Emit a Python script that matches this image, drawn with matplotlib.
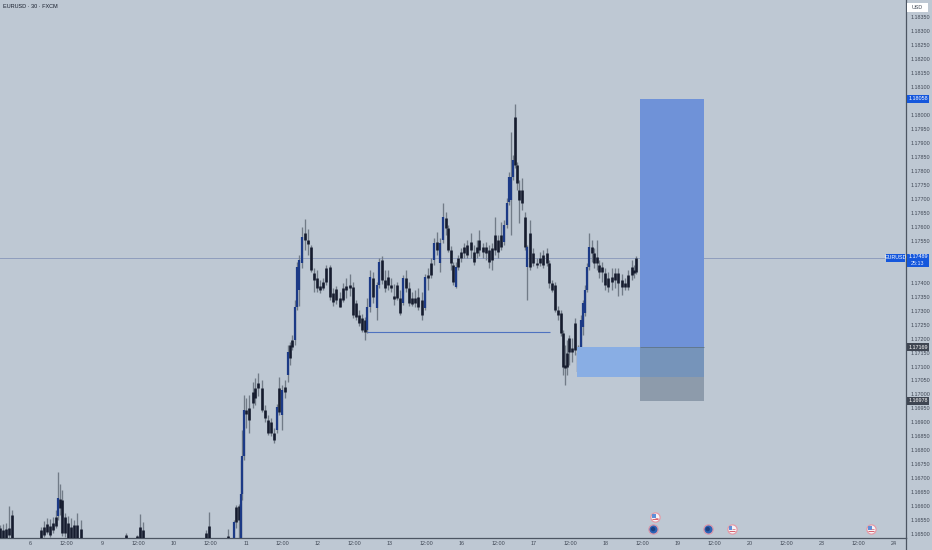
import numpy as np
import matplotlib
matplotlib.use("Agg")
import matplotlib.pyplot as plt
from matplotlib.patches import Rectangle
from matplotlib.transforms import blended_transform_factory as btf

plt.rcParams['font.family'] = ['Liberation Sans', 'DejaVu Sans']

BG = '#bec8d3'
TXT = '#3f4754'

# hours since the left edge of the chart
hours = [0,1,2,3,4,13.7,14.7,15.7,16.7,17.7,
 18.7,19.2,20,20.7,21.7,22.7,23.7,24.7,25.7,27,
 42,45.7,46.7,47.7,68.7,69.7,76,78,78.7,79.7,
 80.2,80.7,81.2,82,83,84.3,85,86,87.3,88.3,
 89.3,90.3,91.3,92.3,93,94,95,96,96.7,97.3,
 98.3,99,99.7,100.7,101.7,102.7,103.7,104.7,105.7,106.7,
 107.7,108.7,110,111,112,113.3,114.3,115.3,116.7,117.7,
 118.7,119.7,120.7,121.7,122.3,123.3,124.3,125.7,126.3,127.3,
 128.3,129.3,130.3,131.3,132.3,133.3,134.3,135.3,136.3,137.3,
 138.3,139.3,140.7,141.7,142.7,143.7,144.7,145.7,146.7,147.7,
 148.7,149.3,150.3,151,152,152.7,153.7,154.7,155.7,157,
 158,159,159.7,161,162,163,164,165,166,167,
 168,169,169.7,170.3,171,171.7,172.3,173,174,175,
 175.7,176.7,177.7,179,180,181,182.3,183,184,185,
 186,187,187.7,188.3,189,189.7,190.7,191.7,192.7,193.7,
 194.3,195,195.7,196.3,197.3,198,199,199.7,200.7,201.7,
 202.7,204,205,206,207.3,208.3,209.3,210.7,211.3,212]

body_top = [1.16522,1.16515,1.16518,1.16522,1.16568,1.16515,1.16525,1.16536,1.16529,1.16540,
 1.16561,1.16629,1.16626,1.16622,1.16561,1.16540,1.16525,1.16533,1.16533,1.16518,
 1.16497,1.16493,1.16525,1.16515,1.16504,1.16529,1.16493,1.16543,1.16597,1.16601,
 1.16643,1.16780,1.16944,1.16944,1.16951,1.17009,1.17023,1.17041,1.17023,1.16944,
 1.16908,1.16901,1.16862,1.16955,1.17023,1.17016,1.17027,1.17152,1.17177,1.17195,
 1.17313,1.17456,1.17481,1.17564,1.17578,1.17553,1.17528,1.17435,1.17417,1.17388,
 1.17402,1.17453,1.17456,1.17363,1.17377,1.17345,1.17381,1.17388,1.17392,1.17385,
 1.17327,1.17284,1.17274,1.17266,1.17313,1.17420,1.17417,1.17392,1.17474,1.17481,
 1.17410,1.17420,1.17392,1.17352,1.17392,1.17345,1.17417,1.17417,1.17381,1.17345,
 1.17345,1.17349,1.17338,1.17420,1.17428,1.17470,1.17542,1.17546,1.17542,1.17635,
 1.17632,1.17596,1.17517,1.17463,1.17456,1.17488,1.17510,1.17528,1.17535,1.17546,
 1.17510,1.17528,1.17553,1.17528,1.17528,1.17517,1.17524,1.17571,1.17553,1.17571,
 1.17607,1.17685,1.17778,1.17778,1.17839,1.17993,1.17821,1.17732,1.17732,1.17635,
 1.17528,1.17578,1.17506,1.17470,1.17488,1.17499,1.17506,1.17470,1.17399,1.17392,
 1.17302,1.17291,1.17220,1.17105,1.17148,1.17202,1.17166,1.17256,1.17148,1.17266,
 1.17327,1.17374,1.17456,1.17528,1.17528,1.17506,1.17492,1.17463,1.17456,1.17435,
 1.17417,1.17420,1.17435,1.17435,1.17410,1.17399,1.17428,1.17456,1.17445,1.17488]

body_bottom = [1.16479,1.16479,1.16479,1.16497,1.16479,1.16479,1.16497,1.16507,1.16497,1.16515,
 1.16529,1.16565,1.16593,1.16504,1.16504,1.16479,1.16479,1.16479,1.16479,1.16479,
 1.16479,1.16479,1.16479,1.16479,1.16479,1.16479,1.16479,1.16479,1.16543,1.16550,
 1.16479,1.16643,1.16780,1.16930,1.16908,1.16969,1.16987,1.17023,1.16944,1.16916,
 1.16862,1.16862,1.16837,1.16873,1.16937,1.16926,1.17009,1.17070,1.17130,1.17170,
 1.17195,1.17313,1.17374,1.17470,1.17553,1.17538,1.17445,1.17410,1.17381,1.17374,
 1.17381,1.17402,1.17349,1.17331,1.17338,1.17313,1.17338,1.17374,1.17381,1.17284,
 1.17277,1.17256,1.17231,1.17224,1.17231,1.17313,1.17349,1.17309,1.17392,1.17410,
 1.17381,1.17392,1.17381,1.17342,1.17345,1.17291,1.17327,1.17381,1.17327,1.17324,
 1.17327,1.17313,1.17284,1.17309,1.17417,1.17428,1.17481,1.17517,1.17470,1.17553,
 1.17596,1.17517,1.17470,1.17402,1.17385,1.17456,1.17488,1.17506,1.17499,1.17517,
 1.17474,1.17506,1.17517,1.17510,1.17506,1.17474,1.17481,1.17517,1.17510,1.17528,
 1.17546,1.17607,1.17689,1.17696,1.17778,1.17821,1.17757,1.17696,1.17685,1.17528,
 1.17456,1.17456,1.17470,1.17463,1.17470,1.17463,1.17470,1.17399,1.17374,1.17302,
 1.17284,1.17220,1.17098,1.17095,1.17098,1.17152,1.17152,1.17159,1.17080,1.17148,
 1.17241,1.17291,1.17374,1.17456,1.17506,1.17470,1.17470,1.17438,1.17438,1.17392,
 1.17385,1.17402,1.17410,1.17399,1.17385,1.17385,1.17385,1.17428,1.17435,1.17438]

wick_high = [1.16533,1.16536,1.16540,1.16601,1.16586,1.16525,1.16547,1.16558,1.16554,1.16561,
 1.16586,1.16722,1.16679,1.16658,1.16575,1.16565,1.16558,1.16550,1.16575,1.16550,
 1.16504,1.16497,1.16572,1.16543,1.16515,1.16579,1.16518,1.16550,1.16604,1.16608,
 1.16765,1.16873,1.16998,1.16987,1.16998,1.17044,1.17059,1.17077,1.17052,1.16962,
 1.16926,1.16916,1.16880,1.16966,1.17062,1.17034,1.17052,1.17177,1.17188,1.17213,
 1.17338,1.17474,1.17499,1.17599,1.17628,1.17592,1.17535,1.17453,1.17445,1.17410,
 1.17417,1.17463,1.17463,1.17381,1.17388,1.17367,1.17399,1.17417,1.17431,1.17402,
 1.17338,1.17302,1.17288,1.17277,1.17345,1.17445,1.17438,1.17402,1.17488,1.17496,
 1.17445,1.17445,1.17417,1.17395,1.17402,1.17374,1.17428,1.17445,1.17402,1.17367,
 1.17374,1.17381,1.17367,1.17431,1.17453,1.17488,1.17560,1.17581,1.17560,1.17685,
 1.17653,1.17607,1.17531,1.17474,1.17474,1.17499,1.17524,1.17542,1.17553,1.17578,
 1.17535,1.17553,1.17589,1.17542,1.17546,1.17535,1.17542,1.17635,1.17571,1.17617,
 1.17624,1.17703,1.17796,1.17939,1.17857,1.18040,1.17832,1.17768,1.17775,1.17653,
 1.17535,1.17624,1.17524,1.17488,1.17510,1.17517,1.17524,1.17481,1.17410,1.17402,
 1.17316,1.17302,1.17231,1.17177,1.17195,1.17213,1.17202,1.17274,1.17177,1.17284,
 1.17338,1.17392,1.17470,1.17578,1.17553,1.17524,1.17553,1.17481,1.17474,1.17453,
 1.17438,1.17453,1.17453,1.17453,1.17431,1.17417,1.17445,1.17481,1.17463,1.17496]

wick_low = [1.16479,1.16479,1.16479,1.16479,1.16479,1.16479,1.16490,1.16500,1.16490,1.16504,
 1.16522,1.16550,1.16568,1.16493,1.16490,1.16479,1.16479,1.16479,1.16479,1.16479,
 1.16479,1.16479,1.16479,1.16479,1.16479,1.16479,1.16479,1.16479,1.16522,1.16479,
 1.16479,1.16622,1.16765,1.16880,1.16862,1.16951,1.16962,1.16994,1.16937,1.16901,
 1.16855,1.16851,1.16826,1.16862,1.16926,1.16873,1.16987,1.17044,1.17105,1.17159,
 1.17177,1.17302,1.17316,1.17453,1.17517,1.17499,1.17438,1.17367,1.17367,1.17363,
 1.17374,1.17392,1.17338,1.17316,1.17324,1.17313,1.17331,1.17345,1.17352,1.17274,
 1.17266,1.17245,1.17224,1.17195,1.17220,1.17295,1.17327,1.17266,1.17381,1.17395,
 1.17367,1.17374,1.17367,1.17320,1.17338,1.17284,1.17320,1.17367,1.17316,1.17316,
 1.17313,1.17302,1.17266,1.17302,1.17374,1.17417,1.17463,1.17499,1.17438,1.17542,
 1.17571,1.17510,1.17445,1.17392,1.17381,1.17445,1.17474,1.17488,1.17488,1.17488,
 1.17463,1.17488,1.17496,1.17488,1.17481,1.17453,1.17445,1.17499,1.17488,1.17517,
 1.17535,1.17596,1.17678,1.17571,1.17768,1.17811,1.17732,1.17614,1.17660,1.17517,
 1.17338,1.17445,1.17460,1.17453,1.17460,1.17453,1.17460,1.17381,1.17367,1.17295,
 1.17266,1.17209,1.17070,1.17034,1.17070,1.17105,1.17116,1.17141,1.17070,1.17130,
 1.17213,1.17281,1.17367,1.17445,1.17474,1.17453,1.17445,1.17417,1.17402,1.17374,
 1.17367,1.17374,1.17381,1.17352,1.17356,1.17374,1.17374,1.17410,1.17417,1.17431]

price_ticks = [1.18350,1.18300,1.18250,1.18200,1.18150,1.18100,1.18000,1.17950,1.17900,
 1.17850,1.17800,1.17750,1.17700,1.17650,1.17600,1.17550,1.17400,
 1.17350,1.17300,1.17250,1.17200,1.17150,1.17100,1.17050,1.17000,1.16950,1.16900,
 1.16850,1.16800,1.16750,1.16700,1.16650,1.16600,1.16550,1.16500]
time_ticks = [10,22,34,46,58,70,82,94,106,118,130,142,154,166,178,190,202,214,226,238,250,262,274,286,298]
time_labels = ['6','12:00','9','12:00','10','12:00','11','12:00','12','12:00','13','12:00',
 '16','12:00','17','12:00','18','12:00','19','12:00','20','12:00','23','12:00','24']

last_price = 1.17489
target_price = 1.18058
entry_price = 1.17169
stop_price = 1.16978
zone_low = 1.17063
level_price = 1.17223
position_start, position_end = 213.3, 234.7
zone_start = 192.3
level_start, level_end = 122.3, 183.3

flag_events = [(218.3, 1.16560), (243.9, 1.16518), (290.3, 1.16518)]
ring_events = [(217.7, 1.16518), (235.9, 1.16518)]

fig = plt.figure(figsize=(9.32, 5.5), dpi=100, facecolor=BG)
ax = fig.add_axes([0, 12.5/550, 906/932, 537.5/550], facecolor=BG)
ax.set_xlim(0, 302)
ax.set_ylim(1.16488, 1.18412)

# candles
t = np.array(hours)
top, bot = np.array(body_top), np.array(body_bottom)
mid = (top + bot) / 2
rising = (top - bot > 0.0006) & (np.r_[mid[1:], mid[-1]] >= mid)
ax.vlines(t, wick_low, wick_high, color='#717b87', lw=0.95, zorder=2)
ax.vlines(t[~rising], bot[~rising], top[~rising], color='#161c2e', lw=1.9, zorder=3)
ax.vlines(t[rising], bot[rising], top[rising], color='#1c3a86', lw=1.6, zorder=3)

# last-price and level lines
ax.axhline(last_price, color='#8f9dbd', lw=0.7, zorder=1)
ax.hlines(level_price, level_start, level_end, color='#4f72c0', lw=0.8, zorder=2)

# position boxes
w = position_end - position_start
ax.add_patch(Rectangle((position_start, entry_price), w, target_price - entry_price,
                       fc='#6f92d8', ec='none', zorder=4))
ax.add_patch(Rectangle((position_start, stop_price), w, entry_price - stop_price,
                       fc='#8d9bab', ec='none', zorder=4))
ax.add_patch(Rectangle((zone_start, zone_low), position_start - zone_start, entry_price - zone_low,
                       fc='#89aee4', ec='none', zorder=3.5))
ax.add_patch(Rectangle((position_start, zone_low), w, entry_price - zone_low,
                       fc='#7694ba', ec='none', zorder=5))
ax.hlines(entry_price, position_start, position_end, color='#5f7488', lw=0.6, zorder=6)

# event markers
for ex, ey in flag_events:
    ax.scatter([ex], [ey], s=44, fc='#f3f4f8', ec='#e59aa6', lw=0.9, zorder=7, clip_on=False)
    ax.scatter([ex - 0.4], [ey + 0.00004], s=7, marker='s', fc='#5f8fd8', ec='none', zorder=8)
    ax.hlines([ey - 0.00005], ex - 1.0, ex + 1.0, color='#d9606c', lw=0.7, zorder=8)
    ax.hlines([ey - 0.00001], ex + 0.1, ex + 1.1, color='#d9606c', lw=0.5, zorder=8)
for ex, ey in ring_events:
    ax.scatter([ex], [ey], s=44, fc='#2b62b4', ec='#d998aa', lw=0.9, zorder=7, clip_on=False)
    ax.scatter([ex], [ey], s=10, fc='#1c3f80', ec='none', zorder=8)

# axes
for s in ('top', 'left'):
    ax.spines[s].set_visible(False)
for s in ('right', 'bottom'):
    ax.spines[s].set_color('#4c5562')
    ax.spines[s].set_linewidth(0.9)
ax.yaxis.tick_right()
ax.set_yticks(price_ticks, [f'{p:.5f}' for p in price_ticks])
ax.set_xticks(time_ticks, time_labels)
ax.tick_params(axis='y', length=0, pad=3.2, labelsize=3.9, labelcolor=TXT)
ax.tick_params(axis='x', length=0, pad=2.2, labelsize=3.9, labelcolor=TXT)
fig.add_artist(plt.Line2D([906/932, 906/932], [0, 12.5/550], color='#4c5562', lw=0.9))

ax.text(3/906, 1 - 7/537.5, 'EURUSD · 30 · FXCM', transform=ax.transAxes, fontsize=4.0,
        color='#161c2a', va='center', ha='left')

# price tags on the scale
tr = btf(fig.transFigure, ax.transData)
px = 0.00003584

def tag(x0, x1, price, h_up, h_dn, color, label, tcolor='white', ty=None):
    fig.add_artist(Rectangle((x0/932, price - h_dn*px), (x1 - x0)/932, (h_up + h_dn)*px,
                             transform=tr, fc=color, ec='none', zorder=5))
    fig.text((x0 + x1)/2/932, price if ty is None else ty, label, transform=tr, fontsize=3.9,
             color=tcolor, ha='center', va='center', zorder=6)

tag(907, 929, target_price, 4, 4, '#1557dc', f'{target_price:.5f}')
tag(907, 929, entry_price, 4, 4, '#3f4652', f'{entry_price:.5f}')
tag(907, 929, stop_price, 4, 4, '#3f4652', f'{stop_price:.5f}')
tag(907, 929, last_price, 4, 9.5, '#1557dc', f'{last_price:.5f}', ty=last_price + 1*px)
tag(886, 905, last_price, 4, 4, '#1557dc', 'EURUSD')
fig.text(918/932, last_price - 6*px, '25:13', transform=tr, fontsize=3.9, color='#dfe8ff',
         ha='center', va='center', zorder=6)

fig.add_artist(Rectangle((907/932, 1 - 12/550), 21/932, 9/550, transform=fig.transFigure,
                         fc='white', ec='none', zorder=5))
fig.text(917/932, 1 - 7.5/550, 'USD', fontsize=3.9, color=TXT, ha='center', va='center', zorder=6)

fig.savefig('out.png', dpi=100, facecolor=BG)
